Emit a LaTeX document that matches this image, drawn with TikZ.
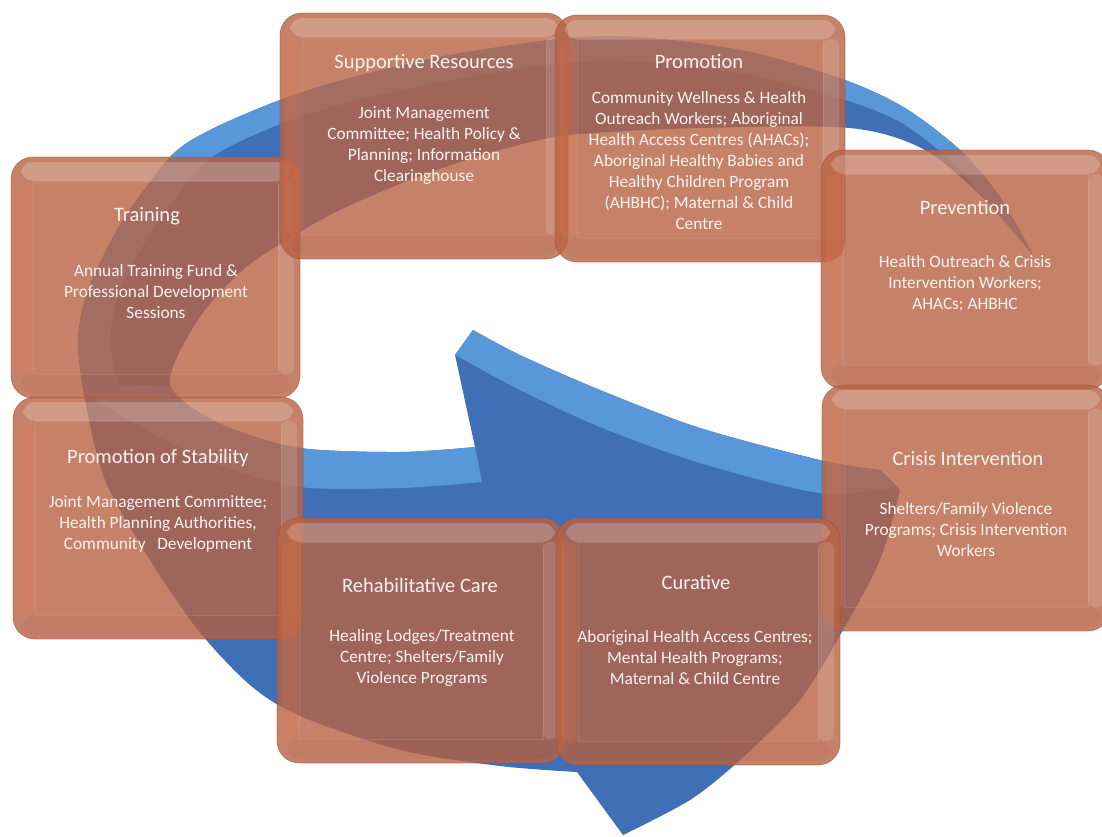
\documentclass[tikz,border=0pt]{standalone}
\usepackage{fontspec}
\setmainfont{Carlito}
\definecolor{boxC}{RGB}{184,99,68}
\definecolor{boxEdge}{RGB}{160,75,50}
\definecolor{bevL}{RGB}{235,120,80}
\definecolor{bevB}{RGB}{140,55,35}
\definecolor{blueD}{RGB}{63,112,183}
\definecolor{blueL}{RGB}{88,152,218}
\definecolor{txtC}{RGB}{248,242,238}
\tikzset{
  boxnode/.style={draw=boxEdge, draw opacity=0.5, line width=0.8pt, fill=boxC, fill opacity=0.8, rounded corners=22pt, inner sep=0pt},
  ttl/.style={text=txtC, font=\fontsize{20.5}{24}\selectfont, inner sep=0pt},
  bdy/.style={text=txtC, align=center, font=\fontsize{17.3}{21}\selectfont, inner sep=0pt}
}
\newcommand\bevelbox[5]{%
  \node[boxnode, minimum width={#4-#2}, minimum height={#5-#3}] (#1) at ({(#2+#4)/2},{(#3+#5)/2}) {};
  \fill[white, opacity=0.2, rounded corners=12pt] ({#2+10},{#3+5}) rectangle ({#4-10},{#3+24});
  \fill[white, opacity=0.13, rounded corners=7pt] ({#4-22},{#3+24}) rectangle ({#4-6},{#5-24});
  \fill[bevL, opacity=0.2, rounded corners=7pt] ({#2+5},{#3+24}) rectangle ({#2+21},{#5-24});
  \fill[bevB, opacity=0.08, rounded corners=12pt] ({#2+10},{#5-24}) rectangle ({#4-10},{#5-4});
  \draw[white, opacity=0.1, line width=1pt] ({#2+22},{#3+24}) rectangle ({#4-22},{#5-24});
}
\begin{document}
\begin{tikzpicture}[x=1pt,y=-1pt]
\useasboundingbox (0,0) rectangle (1102,836);
% ---- blue swirl arrow: full body ----
\fill[blueD]
  plot[smooth] coordinates {(1033,255) (1000,197) (960,150) (905,108) (845,80) (750,52) (650,38) (570,38) (450,55) (350,78) (280,100) (210,130) (170,157) (120,225) (88,290) (78,340) (85,400) (105,480) (148,557) (198,630) (250,685) (300,716) (400,750) (500,766) (577,772)}
  -- (623,835)
  -- plot[smooth] coordinates {(623,835) (690,800) (740,760) (800,700) (843,630) (880,560) (900,490)}
  -- (880,470)
  -- plot[smooth] coordinates {(880,470) (820,460) (700,428) (600,390) (520,355) (473,330)}
  -- (455,355) -- (475,447)
  -- plot[smooth] coordinates {(475,447) (400,452) (300,448) (230,428) (188,405) (170,385) (178,355) (205,310) (245,268) (290,238) (340,210) (420,176) (500,150) (570,135) (700,128) (850,128) (925,150) (985,200) (1033,255)}
  -- cycle;
% ---- light face along outer edge and inner turn ----
\fill[blueL]
  plot[smooth] coordinates {(1033,255) (1000,197) (960,150) (905,108) (845,80) (750,52) (650,38) (570,38) (450,55) (350,78) (280,100) (210,130) (170,157) (120,225) (88,290) (78,340) (84,393)}
  -- plot[smooth] coordinates {(84,393) (150,432) (220,465) (300,487) (400,488) (482,482)}
  -- (475,447)
  -- plot[smooth] coordinates {(475,447) (400,452) (300,448) (230,428) (188,405) (170,387)}
  -- (118,385)
  -- plot[smooth] coordinates {(118,385) (110,340) (122,285) (158,222) (208,160) (280,124) (350,102) (450,80) (570,62) (650,62) (750,75) (845,100) (900,122) (950,160) (990,205) (1033,255)}
  -- cycle;
% ---- light face of arrow head ----
\fill[blueL]
  plot[smooth] coordinates {(473,330) (520,355) (600,390) (700,428) (820,460) (880,470)}
  -- (895,487)
  -- plot[smooth] coordinates {(895,487) (820,493) (700,463) (600,427) (520,390) (455,355)}
  -- cycle;
% ---- boxes ----
\bevelbox{tra}{11}{157}{300}{398}
\bevelbox{sta}{13}{397}{303}{639}
\bevelbox{sup}{280}{13}{568}{259}
\bevelbox{pro}{555}{15}{845}{262}
\bevelbox{pre}{821}{150}{1110}{389}
\bevelbox{cri}{822}{385}{1110}{631}
\bevelbox{reh}{277}{518}{565}{763}
\bevelbox{cur}{556}{518}{840}{765}
% ---- texts ----
\node[ttl] (supT) at (424,63) {Supportive Resources};
\node[bdy] (supB) at (424,146) {Joint Management\\Committee; Health Policy \&\\Planning; Information\\Clearinghouse};
\node[ttl] (proT) at (699,61) {Promotion};
\node[bdy] (proB) at (699,160.5) {Community Wellness \& Health\\Outreach Workers; Aboriginal\\Health Access Centres (AHACs);\\Aboriginal Healthy Babies and\\Healthy Children Program\\(AHBHC); Maternal \& Child\\Centre};
\node[ttl] (traT) at (147,216) {Training};
\node[bdy] (traB) at (156,291.5) {Annual Training Fund \&\\Professional Development\\Sessions};
\node[ttl] (preT) at (965,207) {Prevention};
\node[bdy] (preB) at (965,283.5) {Health Outreach \& Crisis\\Intervention Workers;\\AHACs; AHBHC};
\node[ttl] (staT) at (158,458) {Promotion of Stability};
\node[bdy] (staB) at (158,523.5) {Joint Management Committee;\\Health Planning Authorities,\\Community\ \ \ Development};
\node[ttl] (criT) at (968,458) {Crisis Intervention};
\node[bdy] (criB) at (966,529.5) {Shelters/Family Violence\\Programs; Crisis Intervention\\Workers};
\node[ttl] (rehT) at (420,585) {Rehabilitative Care};
\node[bdy] (rehB) at (422,657.5) {Healing Lodges/Treatment\\Centre; Shelters/Family\\Violence Programs};
\node[ttl] (curT) at (696,582) {Curative};
\node[bdy] (curB) at (695,657.5) {Aboriginal Health Access Centres;\\Mental Health Programs;\\Maternal \& Child Centre};
\end{tikzpicture}
\end{document}
